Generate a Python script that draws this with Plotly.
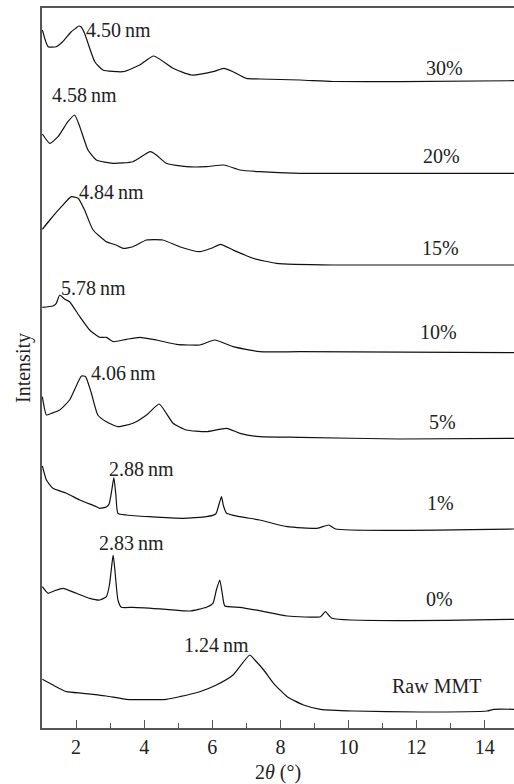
import plotly.graph_objects as go

# 2theta positions and intensities (a.u., stacked offsets)
x30 = [1.01,1.18,1.42,1.6,1.86,2.0,2.08,2.15,2.25,2.55,2.79,3.38,3.87,4.28,4.85,5.39,6.02,6.34,6.61,7.0,7.39,8.57,9.54,11.5,14.86]
y30 = [698,681.3,681.3,686,696.3,700,702,701,694.7,666.3,658,656.3,663,672,659.7,653,656.3,659.7,656.3,649.7,649,648,646.5,646.3,647.3]

x20 = [1.01,1.23,1.47,1.76,1.96,2.11,2.35,2.6,3.09,3.67,4.18,4.36,4.65,5.24,5.83,6.34,6.81,7.39,8.57,11.5,14.86]
y20 = [594,584.7,591.3,606.3,613,601.3,578,568,564.7,566.3,576.3,573,564.7,561.3,561.3,563,558,556.3,554.7,554.7,554.7]

x15 = [1.01,1.23,1.57,1.86,2.06,2.25,2.5,2.89,3.18,3.38,3.67,4.07,4.55,5.04,5.63,5.97,6.24,6.61,7.2,7.88,9.55,14.86]
y15 = [498.7,508,521.3,531.3,529.7,518,498,486.3,483,479.7,481.3,488,488,481.3,476.3,479.7,483.7,478,469.7,464.7,463,463]

x10 = [1.01,1.32,1.42,1.52,1.67,1.81,2.11,2.4,2.69,2.89,3.09,3.48,3.87,4.36,4.95,5.63,6.07,6.61,7.39,8.57,14.86]
y10 = [420.7,422,424.7,433,428.7,426.3,411.3,398,390.7,390.7,386.3,388.7,390.7,388,383.7,383,388,381.3,376.3,376.3,375.3]

x5 = [1.01,1.13,1.28,1.52,1.81,2.16,2.28,2.45,2.64,2.89,3.23,3.67,4.07,4.44,4.65,4.85,5.24,5.83,6.42,6.81,7.39,8.57,11.5,14.86]
y5 = [331.3,313,314.7,318,328,352,351.3,334.7,313,306.3,301.3,304.7,313,324,314.7,304.7,298,296.3,299.7,294.7,291.3,290.7,289,289.7]

x1 = [1.01,1.13,1.32,1.72,2.11,2.6,2.69,2.89,2.97,3.05,3.11,3.17,3.23,3.48,4.16,5.14,5.83,6.1,6.2,6.27,6.33,6.42,6.81,7.39,8.2,9.08,9.42,9.62,14.86]
y1 = [262,248,239.7,234.7,228,221.3,219.7,221,224,238,250.3,233,214.7,213,211.3,209.7,211.3,214,224,231.3,222,214.7,211.3,208,201.3,199.7,203,199,199]

x0 = [1.01,1.18,1.37,1.62,2.01,2.4,2.69,2.89,2.98,3.05,3.09,3.14,3.23,3.33,3.67,4.65,5.34,5.83,6.02,6.12,6.22,6.3,6.37,6.81,7.39,8.2,9.18,9.32,9.52,14.86]
y0 = [141.3,134.7,137.3,139.7,134.7,129.7,128,131.3,143,163,173,158,128,120.7,120.7,118.7,117,120.7,124.7,138,148,133,122,120.7,117.3,112,111.3,116.3,109.7,108.7]

xraw = [1.01,1.32,1.72,2.2,2.89,3.48,4.65,5.04,5.63,6.12,6.61,7.1,7.25,7.51,7.8,8.2,8.68,9.18,10.15,12.11,14.07,14.27,14.86]
yraw = [48.7,43,36.3,34.7,32,28.7,28.7,31.3,36.3,43,53,73,68,58,44.7,31.3,23,18.7,17,16,17,18.7,18.7]

series_x = [x30, x20, x15, x10, x5, x1, x0, xraw]
series_y = [y30, y20, y15, y10, y5, y1, y0, yraw]
series_names = ["30%", "20%", "15%", "10%", "5%", "1%", "0%", "Raw MMT"]

# label anchor positions (data coords)
name_x = [12.82, 12.74, 12.71, 12.63, 12.75, 12.69, 12.66, 12.59]
name_y = [660, 572, 480, 396, 306, 225, 129, 42]
d_labels = ["4.50\u2009nm", "4.58\u2009nm", "4.84\u2009nm", "5.78\u2009nm", "4.06\u2009nm", "2.88\u2009nm", "2.83\u2009nm", "1.24\u2009nm"]
d_x = [2.32, 1.32, 2.12, 1.59, 2.47, 3.0, 2.70, 5.2]
d_y = [698, 633, 536, 440, 355, 259, 185, 83]

FONT = "Liberation Serif, Times New Roman, serif"
FS = 20
TXT = "#222222"
AX = "#555555"

fig = go.Figure()
for xs, ys, nm in zip(series_x, series_y, series_names):
    fig.add_trace(go.Scatter(x=xs, y=ys, mode="lines", name=nm,
                             line=dict(color="#111111", width=1.2,
                                       shape="spline", smoothing=0.5)))

ann = []
for t, xx, yy in zip(series_names, name_x, name_y):
    ann.append(dict(x=xx, y=yy, xref="x", yref="y", text=t, showarrow=False,
                    xanchor="center", yanchor="middle",
                    font=dict(family=FONT, size=FS, color=TXT)))
for t, xx, yy in zip(d_labels, d_x, d_y):
    ann.append(dict(x=xx, y=yy, xref="x", yref="y", text=t, showarrow=False,
                    xanchor="left", yanchor="middle", xshift=-3,
                    font=dict(family=FONT, size=FS, color=TXT)))

fig.update_layout(
    width=514, height=784,
    margin=dict(l=42, r=0, t=8, b=56),
    paper_bgcolor="white", plot_bgcolor="white",
    showlegend=False,
    annotations=ann,
    font=dict(family=FONT, size=FS, color=TXT),
    xaxis=dict(range=[1, 14.86], tickmode="array", tickvals=[2, 4, 6, 8, 10, 12, 14],
               ticks="inside", ticklen=8, tickwidth=1.3, tickcolor=AX,
               minor=dict(tickmode="array", tickvals=[3, 5, 7, 9, 11, 13],
                          ticks="inside", ticklen=5, tickwidth=1.3, tickcolor=AX),
               showline=True, linecolor=AX, linewidth=1.6, mirror=True,
               showgrid=False, zeroline=False,
               tickfont=dict(family=FONT, size=FS, color=TXT),
               title=dict(text="2<i>θ</i> (°)", standoff=8,
                          font=dict(family=FONT, size=FS, color=TXT))),
    yaxis=dict(range=[0, 720], showticklabels=False, ticks="",
               showline=True, linecolor=AX, linewidth=1.6,
               showgrid=False, zeroline=False,
               title=dict(text="Intensity", standoff=4,
                          font=dict(family=FONT, size=FS, color=TXT))),
)

fig.write_html("out.html")
